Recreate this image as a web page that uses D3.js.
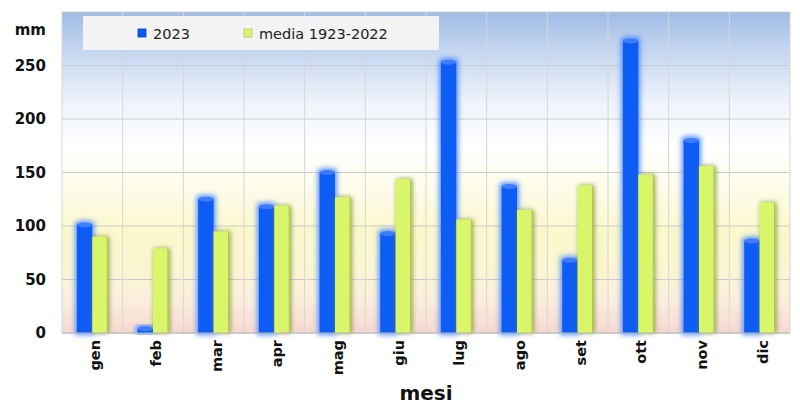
<!DOCTYPE html>
<html>
<head>
<meta charset="utf-8">
<script src="https://cdn.jsdelivr.net/npm/d3@7"></script>
<style>
  body { margin: 0; background: #fff; }
  svg { display: block; font-family: "DejaVu Sans", Verdana, sans-serif; }
</style>
</head>
<body>
<svg width="800" height="411"></svg>
<script>
"use strict";

var months = ["gen", "feb", "mar", "apr", "mag", "giu", "lug", "ago", "set", "ott", "nov", "dic"];
var seriesNames = ["2023", "media 1923-2022"];
var rain2023 = [101, 4, 125, 118, 150, 93, 253, 137, 68, 273, 180, 86];
var rainMean = [90, 79, 95, 119, 127, 144, 106, 115, 138, 148, 156, 122];
var yTicks = [0, 50, 100, 150, 200, 250];

var svg = d3.select("svg");
var margin = {left: 62, right: 10, top: 12, bottom: 78};
var width = 800, height = 411;
var plotW = width - margin.left - margin.right,
    plotH = height - margin.top - margin.bottom;

var x0 = d3.scaleBand().domain(months).range([0, plotW])
    .paddingInner(0.49).paddingOuter(0.245);
var x1 = d3.scaleBand().domain(seriesNames).range([0, x0.bandwidth()]);
var y = d3.scaleLinear().domain([0, 300]).range([plotH, 0]);

var defs = svg.append("defs");
var bg = defs.append("linearGradient").attr("id", "bgGrad")
    .attr("x1", 0).attr("y1", 0).attr("x2", 0).attr("y2", 1);
[["0%", "#9fbbe4"], ["10%", "#bfd2ee"], ["28%", "#eef3fb"], ["42%", "#ffffff"],
 ["55%", "#fdfcea"], ["68%", "#fbf8cc"], ["80%", "#fbf6d2"], ["90%", "#fbeedd"], ["100%", "#f6d8d0"]]
  .forEach(function(s) { bg.append("stop").attr("offset", s[0]).attr("stop-color", s[1]); });

var glow = defs.append("filter").attr("id", "blueGlow")
    .attr("x", "-50%").attr("y", "-20%").attr("width", "200%").attr("height", "140%");
glow.append("feMorphology").attr("in", "SourceAlpha").attr("operator", "dilate").attr("radius", 2).attr("result", "d");
glow.append("feGaussianBlur").attr("in", "d").attr("stdDeviation", 2.5).attr("result", "b");
glow.append("feFlood").attr("flood-color", "#4d8cff").attr("flood-opacity", 0.9);
glow.append("feComposite").attr("in2", "b").attr("operator", "in").attr("result", "g");
var gm = glow.append("feMerge");
gm.append("feMergeNode").attr("in", "g");
gm.append("feMergeNode").attr("in", "SourceGraphic");

var shadow = defs.append("filter").attr("id", "greenShadow")
    .attr("x", "-50%").attr("y", "-20%").attr("width", "200%").attr("height", "140%");
shadow.append("feDropShadow").attr("dx", 1).attr("dy", 0).attr("stdDeviation", 2.5)
    .attr("flood-color", "#74892a").attr("flood-opacity", 0.85);

var g = svg.append("g").attr("transform", "translate(" + margin.left + "," + margin.top + ")");

g.append("rect").attr("width", plotW).attr("height", plotH).attr("fill", "url(#bgGrad)");

// grid
g.selectAll(".hgrid").data(yTicks.concat([300])).enter().append("line")
    .attr("x1", 0).attr("x2", plotW)
    .attr("y1", function(d) { return y(d); }).attr("y2", function(d) { return y(d); })
    .attr("stroke", "#cccccc").attr("stroke-width", 1);
var step = x0.step();
g.selectAll(".vgrid").data(d3.range(months.length + 1)).enter().append("line")
    .attr("x1", function(i) { return i * step; }).attr("x2", function(i) { return i * step; })
    .attr("y1", 0).attr("y2", plotH)
    .attr("stroke", "#d6d6d6").attr("stroke-width", 1);

// bars
var data = months.map(function(m, i) { return {m: m, vals: [rain2023[i], rainMean[i]]}; });
var groups = g.selectAll(".grp").data(data).enter().append("g")
    .attr("transform", function(d) { return "translate(" + x0(d.m) + ",0)"; });

groups.each(function(d) {
  var gg = d3.select(this);
  var bw = x1.bandwidth();
  // 2023
  var v = d.vals[0];
  var b = gg.append("g").attr("filter", "url(#blueGlow)");
  b.append("rect").attr("x", x1(seriesNames[0])).attr("y", y(v))
    .attr("width", bw).attr("height", plotH - y(v)).attr("fill", "#0b5cf4");
  b.append("ellipse").attr("cx", x1(seriesNames[0]) + bw / 2).attr("cy", y(v))
    .attr("rx", bw / 2).attr("ry", 2.5).attr("fill", "#3d7cff");
  // media
  var w = d.vals[1];
  var gr = gg.append("g").attr("filter", "url(#greenShadow)");
  gr.append("rect").attr("x", x1(seriesNames[1])).attr("y", y(w))
    .attr("width", bw).attr("height", plotH - y(w)).attr("fill", "#d9f56b");
  gr.append("line").attr("x1", x1(seriesNames[1]) + bw - 0.5).attr("x2", x1(seriesNames[1]) + bw - 0.5)
    .attr("y1", y(w)).attr("y2", plotH).attr("stroke", "#a9c24a").attr("stroke-width", 1);
});

g.append("line").attr("x1", 0).attr("x2", plotW).attr("y1", plotH).attr("y2", plotH)
    .attr("stroke", "#b9b9b9");

// y axis labels
g.selectAll(".ylab").data(yTicks).enter().append("text")
    .attr("x", -16).attr("y", function(d) { return y(d); }).attr("dy", "0.36em")
    .attr("text-anchor", "end").attr("font-size", 15).attr("font-weight", "bold")
    .attr("fill", "#111").text(function(d) { return d; });
svg.append("text").attr("x", 46).attr("y", 35).attr("text-anchor", "end")
    .attr("font-size", 15).attr("font-weight", "bold").attr("fill", "#111").text("mm");

// x labels
g.selectAll(".xlab").data(months).enter().append("text")
    .attr("transform", function(d) {
      return "translate(" + (x0(d) + x0.bandwidth() / 2 + 8) + "," + (plotH + 7) + ") rotate(-90)";
    })
    .attr("text-anchor", "end").attr("font-size", 14.5).attr("font-weight", "bold")
    .attr("fill", "#111").text(function(d) { return d; });
svg.append("text").attr("x", margin.left + plotW / 2).attr("y", 400).attr("text-anchor", "middle")
    .attr("font-size", 20).attr("font-weight", "bold").attr("fill", "#111").text("mesi");

// legend
var lg = svg.append("g");
lg.append("rect").attr("x", 83).attr("y", 16).attr("width", 356).attr("height", 34).attr("fill", "#f3f3f3");
var legendX = [138, 244];
var legendColors = ["#0b5cf4", "#d9f56b"];
seriesNames.forEach(function(s, i) {
  lg.append("rect").attr("x", legendX[i]).attr("y", 29).attr("width", 8).attr("height", 8)
    .attr("fill", legendColors[i]).attr("stroke", i ? "#b5c95a" : "#0840b0").attr("stroke-width", 0.8);
  lg.append("text").attr("x", legendX[i] + 15).attr("y", 38.5).attr("font-size", 14.5)
    .attr("fill", "#222").text(s);
});
</script>
</body>
</html>
